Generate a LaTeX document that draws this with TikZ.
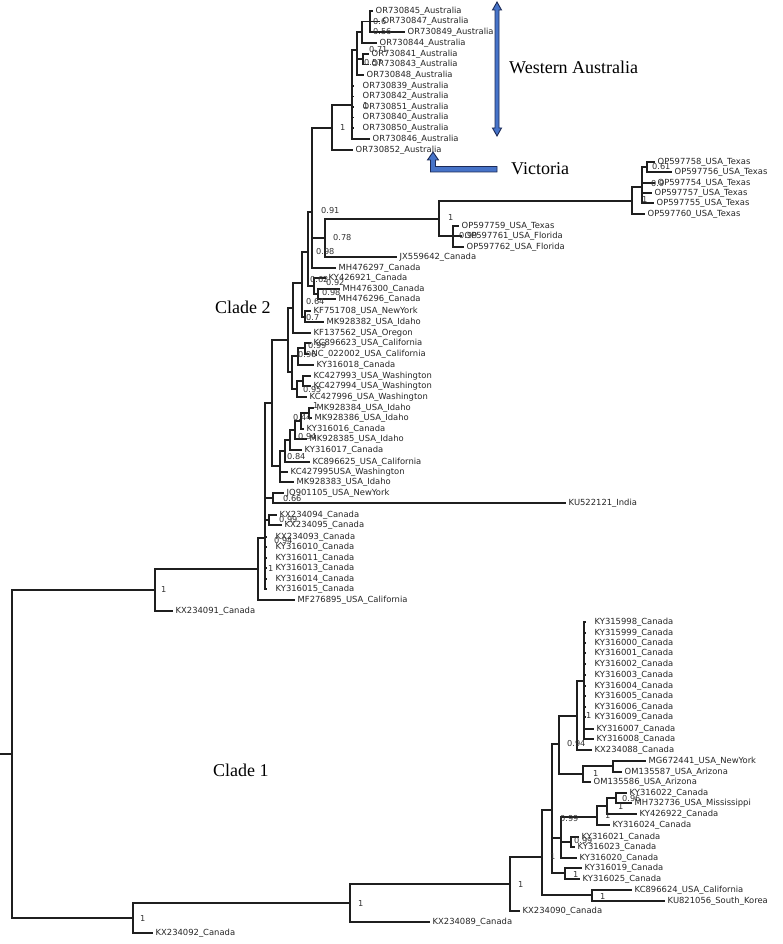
\documentclass[tikz,border=0pt]{standalone}
\usepackage{fontspec}
\setmainfont{Liberation Serif}
\newfontfamily\lblfont{DejaVu Sans}
\definecolor{navy}{RGB}{28,42,86}
\definecolor{arrowblue}{RGB}{70,115,200}
\tikzset{
  br/.style={line width=1.2pt, draw=black!88},
  leaf/.style={anchor=west, inner xsep=2.5pt, inner ysep=0.5pt, text=black!85,
               font=\lblfont\fontsize{8.4}{9}\selectfont},
  zleaf/.style={leaf, inner xsep=8.5pt},
  supp/.style={anchor=west, inner sep=0pt, text=black!80,
               font=\lblfont\fontsize{8.2}{9}\selectfont},
  big/.style={anchor=west, inner sep=0pt, font=\fontsize{18}{20}\selectfont},
  blockarrow/.style={fill=arrowblue, draw=navy, line width=0.9pt, line join=miter},
}
\newcommand{\kids}[2]{\foreach \c in {#2}{\draw[br] (#1) |- (\c);}}
\begin{document}
\begin{tikzpicture}[x=1pt,y=-1pt]
\useasboundingbox (0,0) rectangle (782,944);
\fill[white] (0,0) rectangle (782,944);

% ---------------- Australian cluster
\node[leaf] (a45) at (373,11) {OR730845\_Australia};
\node[leaf] (a47) at (380,21.5) {OR730847\_Australia};
\node[leaf] (a49) at (405,32) {OR730849\_Australia};
\node[leaf] (a44) at (377,43) {OR730844\_Australia};
\node[leaf] (a41) at (369,54) {OR730841\_Australia};
\node[leaf] (a43) at (369,64.5) {OR730843\_Australia};
\node[leaf] (a48) at (364,75) {OR730848\_Australia};
\node[zleaf] (a39) at (354,86) {OR730839\_Australia};
\node[zleaf] (a42) at (354,96.5) {OR730842\_Australia};
\node[zleaf] (a51) at (354,107) {OR730851\_Australia};
\node[zleaf] (a40) at (354,117.5) {OR730840\_Australia};
\node[zleaf] (a50) at (354,128) {OR730850\_Australia};
\node[leaf] (a46) at (370,139) {OR730846\_Australia};
\node[leaf] (a52) at (353,150) {OR730852\_Australia};
\coordinate (wb) at (370,21.5);
\coordinate (wa) at (362,32);
\coordinate (wc) at (363,59);
\coordinate (ws) at (357,50);
\coordinate (wac) at (352,105);
\coordinate (aus) at (332,128);
\kids{wb}{a45,a47,a49}
\kids{wa}{wb,a44}
\kids{wc}{a41,a43}
\kids{ws}{wa,wc,a48}
\kids{wac}{ws,a39,a42,a51,a40,a50,a46}
\kids{aus}{wac,a52}

% ---------------- Texas / Florida
\node[leaf] (t58) at (655,162) {OP597758\_USA\_Texas};
\node[leaf] (t56) at (672,172) {OP597756\_USA\_Texas};
\node[leaf] (t54) at (655,183) {OP597754\_USA\_Texas};
\node[leaf] (t57) at (652,193) {OP597757\_USA\_Texas};
\node[leaf] (t55) at (654,203) {OP597755\_USA\_Texas};
\node[leaf] (t60) at (645,214) {OP597760\_USA\_Texas};
\coordinate (t2) at (647,167);
\coordinate (t1) at (642,187);
\coordinate (t0) at (632,201);
\kids{t2}{t58,t56}
\kids{t1}{t2,t54,t57,t55}
\kids{t0}{t1,t60}
\node[leaf] (f59) at (459,226) {OP597759\_USA\_Texas};
\node[leaf] (f61) at (462,236) {OP597761\_USA\_Florida};
\node[leaf] (f62) at (464,247) {OP597762\_USA\_Florida};
\coordinate (f1) at (453,236);
\coordinate (f0) at (439,219);
\kids{f1}{f59,f61,f62}
\kids{f0}{t0,f1}
\node[leaf] (jx) at (397,257) {JX559642\_Canada};
\coordinate (m0) at (325,238);
\kids{m0}{f0,jx}
\node[leaf] (mh97) at (336,268) {MH476297\_Canada};
\coordinate (m1) at (312,212);
\kids{m1}{aus,m0,mh97}

% ---------------- Canada / USA ladder
\node[leaf] (ky21) at (326,278) {KY426921\_Canada};
\node[leaf] (mh00) at (340,289) {MH476300\_Canada};
\node[leaf] (mh96) at (336,299) {MH476296\_Canada};
\coordinate (k2) at (318,294);
\coordinate (k1) at (314,286);
\kids{k2}{mh00,mh96}
\kids{k1}{ky21,k2}
\coordinate (nb) at (308,252);
\kids{nb}{m1,k1}
\node[leaf] (kf08) at (311,311) {KF751708\_USA\_NewYork};
\node[leaf] (mk82) at (324,322) {MK928382\_USA\_Idaho};
\coordinate (km) at (305,317);
\kids{km}{kf08,mk82}
\coordinate (nc) at (302,283);
\kids{nc}{nb,km}
\node[leaf] (kf62) at (311,333) {KF137562\_USA\_Oregon};
\coordinate (nd) at (293,308);
\kids{nd}{nc,kf62}
\node[leaf] (kc23) at (311,343) {KC896623\_USA\_California};
\node[leaf] (nc02) at (309,354) {NC\_022002\_USA\_California};
\node[leaf] (ky18) at (314,365) {KY316018\_Canada};
\coordinate (c1) at (305,348);
\coordinate (c2) at (298,356);
\kids{c1}{kc23,nc02}
\kids{c2}{c1,ky18}
\node[leaf] (kc93) at (311,376) {KC427993\_USA\_Washington};
\node[leaf] (kc94) at (311,386) {KC427994\_USA\_Washington};
\node[leaf] (kc96) at (307,397) {KC427996\_USA\_Washington};
\coordinate (w1) at (303,381);
\coordinate (w2) at (297,389);
\kids{w1}{kc93,kc94}
\kids{w2}{w1,kc96}
\coordinate (cw) at (292,372);
\kids{cw}{c2,w2}
\coordinate (ne) at (288,340);
\kids{ne}{nd,cw}
\node[leaf] (mk84) at (314,408) {MK928384\_USA\_Idaho};
\node[leaf] (mk86) at (312,418) {MK928386\_USA\_Idaho};
\node[leaf] (ky16) at (304,429) {KY316016\_Canada};
\node[leaf] (mk85) at (307,439) {MK928385\_USA\_Idaho};
\node[leaf] (ky17) at (302,450) {KY316017\_Canada};
\node[leaf] (kc25) at (310,462) {KC896625\_USA\_California};
\node[leaf] (kc95) at (288,472) {KC427995USA\_Washington};
\node[leaf] (mk83) at (294,482) {MK928383\_USA\_Idaho};
\coordinate (i1) at (309,413);
\coordinate (i2) at (301,421);
\coordinate (i3) at (295,430);
\coordinate (i4) at (290,440);
\coordinate (i5) at (285,451);
\coordinate (i6) at (280,466);
\kids{i1}{mk84,mk86}
\kids{i2}{i1,ky16}
\kids{i3}{i2,mk85}
\kids{i4}{i3,ky17}
\kids{i5}{i4,kc25}
\kids{i6}{i5,kc95,mk83}
\coordinate (nf) at (272,403);
\kids{nf}{ne,i6}
\node[leaf] (jq) at (284,493) {JQ901105\_USA\_NewYork};
\node[leaf] (ku) at (566,503) {KU522121\_India};
\coordinate (jqku) at (273,498);
\kids{jqku}{jq,ku}
\node[leaf] (kx94) at (277,515) {KX234094\_Canada};
\node[leaf] (kx95) at (282,525) {KX234095\_Canada};
\coordinate (k9495) at (269,520);
\kids{k9495}{kx94,kx95}
\node[zleaf] (kx93) at (267,537) {KX234093\_Canada};
\node[zleaf] (ky10) at (267,547) {KY316010\_Canada};
\node[zleaf] (ky11) at (267,558) {KY316011\_Canada};
\node[zleaf] (ky13) at (267,568) {KY316013\_Canada};
\node[zleaf] (ky14) at (267,579) {KY316014\_Canada};
\node[zleaf] (ky15) at (267,589) {KY316015\_Canada};
\coordinate (xx) at (265,538);
\kids{xx}{nf,jqku,k9495,kx93,ky10,ky11,ky13,ky14,ky15}
\node[leaf] (mf) at (295,600) {MF276895\_USA\_California};
\coordinate (r2) at (258,569);
\kids{r2}{xx,mf}
\node[leaf] (kx91) at (173,611) {KX234091\_Canada};
\coordinate (rc) at (155,590);
\kids{rc}{r2,kx91}

% ---------------- Clade 1
\node[zleaf] (g98) at (586,622) {KY315998\_Canada};
\node[zleaf] (g99) at (586,633) {KY315999\_Canada};
\node[zleaf] (g00) at (586,643) {KY316000\_Canada};
\node[zleaf] (g01) at (586,653) {KY316001\_Canada};
\node[zleaf] (g02) at (586,664) {KY316002\_Canada};
\node[zleaf] (g03) at (586,675) {KY316003\_Canada};
\node[zleaf] (g04) at (586,686) {KY316004\_Canada};
\node[zleaf] (g05) at (586,696) {KY316005\_Canada};
\node[zleaf] (g06) at (586,707) {KY316006\_Canada};
\node[zleaf] (g09) at (586,717) {KY316009\_Canada};
\node[leaf] (g07) at (594,729) {KY316007\_Canada};
\node[leaf] (g08) at (594,739) {KY316008\_Canada};
\node[leaf] (kx88) at (592,750) {KX234088\_Canada};
\coordinate (g1) at (584,681);
\coordinate (g2) at (577,716);
\kids{g1}{g98,g99,g00,g01,g02,g03,g04,g05,g06,g09,g07,g08}
\kids{g2}{g1,kx88}
\node[leaf] (mg41) at (646,761) {MG672441\_USA\_NewYork};
\node[leaf] (om87) at (622,772) {OM135587\_USA\_Arizona};
\node[leaf] (om86) at (591,782) {OM135586\_USA\_Arizona};
\coordinate (g5) at (613,766);
\coordinate (g4) at (583,774);
\coordinate (g3) at (559,744);
\kids{g5}{mg41,om87}
\kids{g4}{g5,om86}
\kids{g3}{g2,g4}
\node[leaf] (ky22) at (627,793) {KY316022\_Canada};
\node[leaf] (mh36) at (632,803) {MH732736\_USA\_Mississippi};
\node[leaf] (ky26) at (637,814) {KY426922\_Canada};
\node[leaf] (ky24) at (610,825) {KY316024\_Canada};
\node[leaf] (ky21b) at (579,837) {KY316021\_Canada};
\node[leaf] (ky23) at (575,847) {KY316023\_Canada};
\node[leaf] (ky20) at (577,858) {KY316020\_Canada};
\coordinate (h1) at (616,798);
\coordinate (h2) at (607,806);
\coordinate (h3) at (597,817);
\coordinate (h5) at (571,842);
\coordinate (h4) at (561,838);
\kids{h1}{ky22,mh36}
\kids{h2}{h1,ky26}
\kids{h3}{h2,ky24}
\kids{h5}{ky21b,ky23}
\kids{h4}{h3,h5,ky20}
\node[leaf] (ky19) at (582,868) {KY316019\_Canada};
\node[leaf] (ky25) at (580,879) {KY316025\_Canada};
\coordinate (k1925) at (565,873);
\kids{k1925}{ky19,ky25}
\coordinate (ss) at (552,810);
\kids{ss}{g3,h4,k1925}
\node[leaf] (kc24) at (632,890) {KC896624\_USA\_California};
\node[leaf] (ku56) at (665,901) {KU821056\_South\_Korea};
\coordinate (kcku) at (592,895);
\kids{kcku}{kc24,ku56}
\coordinate (pp) at (542,857);
\kids{pp}{ss,kcku}
\node[leaf] (kx90) at (520,911) {KX234090\_Canada};
\coordinate (c1c) at (510,884);
\kids{c1c}{pp,kx90}
\node[leaf] (kx89) at (430,922) {KX234089\_Canada};
\coordinate (c1b) at (350,903);
\kids{c1b}{c1c,kx89}
\node[leaf] (kx92) at (153,933) {KX234092\_Canada};
\coordinate (c1a) at (133,918);
\kids{c1a}{c1b,kx92}

% ---------------- root
\coordinate (root) at (12,754);
\coordinate (rootstub) at (0,754);
\kids{root}{rc,c1a}
\draw[br] (rootstub) -- (root);

% ---------------- support values
\node[supp] (s01) at (373,21.5) {0.6};
\node[supp] (s02) at (373,32) {0.56};
\node[supp] (s03) at (369,50) {0.71};
\node[supp] (s04) at (364,63) {0.57};
\node[supp] (s05) at (363,106) {1};
\node[supp] (s06) at (340,128) {1};
\node[supp] (s07) at (652,167) {0.61};
\node[supp] (s08) at (651,184) {0.9};
\node[supp] (s09) at (642,200) {1};
\node[supp] (s10) at (448,218) {1};
\node[supp] (s11) at (459,236) {0.99};
\node[supp] (s12) at (321,211) {0.91};
\node[supp] (s13) at (333,238) {0.78};
\node[supp] (s14) at (316,252) {0.98};
\node[supp] (s15) at (310,280) {0.62};
\node[supp] (s16) at (326,283) {0.92};
\node[supp] (s17) at (322,293) {0.98};
\node[supp] (s18) at (306,302) {0.64};
\node[supp] (s19) at (306,318) {0.7};
\node[supp] (s20) at (308,346) {0.99};
\node[supp] (s21) at (298,355) {0.96};
\node[supp] (s22) at (303,390) {0.95};
\node[supp] (s23) at (313,406) {1};
\node[supp] (s24) at (293,418) {0.44};
\node[supp] (s25) at (298,437) {0.94};
\node[supp] (s26) at (287,457) {0.84};
\node[supp] (s27) at (283,499) {0.66};
\node[supp] (s28) at (279,520) {0.99};
\node[supp] (s29) at (274,541) {0.94};
\node[supp] (s30) at (268,569) {1};
\node[supp] (s31) at (161,590) {1};
\node[supp] (s32) at (586,716) {1};
\node[supp] (s33) at (567,744) {0.94};
\node[supp] (s34) at (593,774) {1};
\node[supp] (s35) at (622,799) {0.96};
\node[supp] (s36) at (618,807) {1};
\node[supp] (s37) at (605,816) {1};
\node[supp] (s38) at (560,819) {0.99};
\node[supp] (s39) at (574,841) {0.99};
\node[supp] (s40) at (550,857) {1};
\node[supp] (s41) at (573,874) {1};
\node[supp] (s42) at (600,896) {1};
\node[supp] (s43) at (518,884) {1};
\node[supp] (s44) at (358,903) {1};
\node[supp] (s45) at (140,918) {1};

% ---------------- annotations
\draw[blockarrow] (497,2) -- (501.5,10) -- (499,10) -- (499,128) -- (501.5,128)
  -- (497,136) -- (492.5,128) -- (495,128) -- (495,10) -- (492.5,10) -- cycle;
\node[big] (wa-lbl) at (509,67) {Western Australia};
\draw[blockarrow] (497,166.5) -- (435.5,166.5) -- (435.5,160) -- (438.5,160)
  -- (433,152) -- (427.5,160) -- (430.5,160) -- (430.5,172) -- (497,172) -- cycle;
\node[big] (vic-lbl) at (511,169) {Victoria};
\node[big] (clade2) at (215,307) {Clade 2};
\node[big] (clade1) at (213,770) {Clade 1};
\end{tikzpicture}
\end{document}
